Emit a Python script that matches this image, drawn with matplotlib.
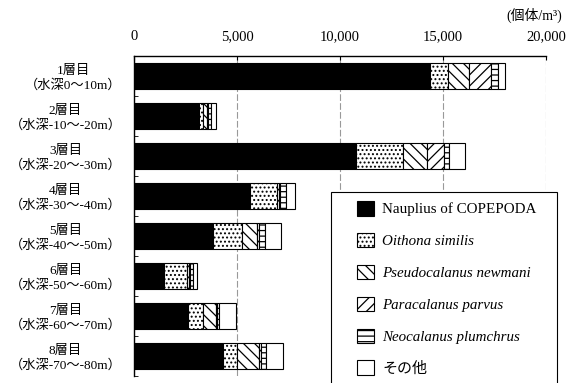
import matplotlib
matplotlib.use("Agg")
import matplotlib.pyplot as plt
from matplotlib.patches import Rectangle
import numpy as np

layers = [
    "1層目\n（水深0～10m）",
    "2層目\n（水深-10～-20m）",
    "3層目\n（水深-20～-30m）",
    "4層目\n（水深-30～-40m）",
    "5層目\n（水深-40～-50m）",
    "6層目\n（水深-50～-60m）",
    "7層目\n（水深-60～-70m）",
    "8層目\n（水深-70～-80m）",
]
species = [
    "Nauplius of COPEPODA",
    "Oithona similis",
    "Pseudocalanus newmani",
    "Paracalanus parvus",
    "Neocalanus plumchrus",
    "その他",
]
nauplius = [14370, 3150, 10780, 5630, 3850, 1470, 2640, 4335]
oithona = [870, 180, 2260, 1300, 1400, 1090, 690, 680]
pseudo = [1020, 200, 1160, 120, 700, 100, 650, 1065]
para = [1070, 80, 860, 60, 120, 60, 50, 100]
neo = [340, 130, 240, 250, 310, 150, 110, 230]
other = [340, 230, 770, 450, 760, 200, 810, 840]
xticks = [0, 5000, 10000, 15000, 20000]

plt.rcParams["font.family"] = ["Liberation Serif", "Noto Sans CJK JP"]
plt.rcParams["hatch.linewidth"] = 0.9

series = [nauplius, oithona, pseudo, para, neo, other]
styles = [
    dict(color="black", hatch=None),
    dict(color="white", hatch="...."),
    dict(color="white", hatch="\\\\\\"),
    dict(color="white", hatch="///"),
    dict(color="white", hatch="---"),
    dict(color="white", hatch=None),
]

fig = plt.figure(figsize=(5.67, 3.83), dpi=100)
ax = fig.add_axes([0.2363, 0.0183, 0.7267, 0.8355])

y = np.arange(len(layers))
left = np.zeros(len(layers))
handles = []
for vals, st, name in zip(series, styles, species):
    bars = ax.barh(y, vals, left=left, height=0.65, color=st["color"],
                   hatch=st["hatch"], edgecolor="black", linewidth=0.8,
                   label=name, zorder=3)
    left += np.array(vals)
    handles.append(bars)

ax.set_xlim(0, 20000)
ax.set_ylim(len(layers) - 0.5, -0.5)
ax.set_xticks(xticks)
ax.set_xticklabels([f"{v:,}" for v in xticks], fontsize=10.5)
ax.xaxis.tick_top()
ax.tick_params(axis="x", direction="in", length=3, pad=9, color="black")
ax.set_yticks(y)
ax.set_yticklabels(layers, fontsize=9.5, multialignment="center")
ax.tick_params(axis="y", length=0, pad=9)
ax.set_yticks(np.arange(len(layers)) + 0.5, minor=True)
ax.tick_params(axis="y", which="minor", direction="in", length=3)
ax.grid(axis="x", color="#999999", linestyle=(0, (6, 2)), linewidth=0.8, zorder=0)
for s in ["right", "bottom"]:
    ax.spines[s].set_visible(False)
ax.spines["top"].set_linewidth(1.0)
ax.spines["left"].set_linewidth(1.0)

fig.text(0.992, 0.96, "(個体/m³)", ha="right", va="center", fontsize=10)

# legend box drawn separately so the left padding can be wider than the top one
fig.patches.append(Rectangle((331 / 567, -0.05), 226 / 567, 1 - 192 / 383 + 0.05,
                             transform=fig.transFigure, facecolor="white",
                             edgecolor="black", linewidth=0.8, zorder=5))
leg = fig.legend(handles=handles, loc="upper left",
                 bbox_to_anchor=(357 / 567, 1 - 201 / 383),
                 fontsize=10.8, frameon=False, labelspacing=1.1,
                 handlelength=1.12, handleheight=1.12, handletextpad=0.55,
                 borderpad=0, borderaxespad=0)
leg.set_zorder(6)
for i, t in enumerate(leg.get_texts()):
    if 1 <= i <= 4:
        t.set_fontstyle("italic")

fig.savefig("out.png", dpi=100)
